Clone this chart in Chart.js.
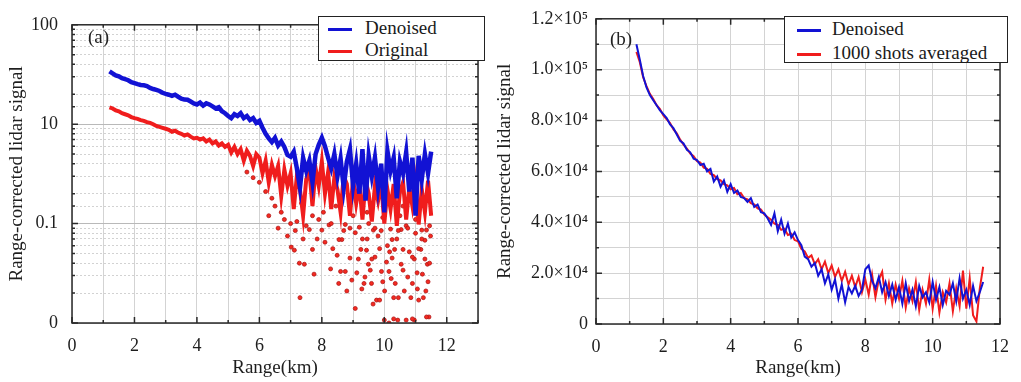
<!DOCTYPE html>
<html>
<head>
<meta charset="utf-8">
<script src="https://cdn.jsdelivr.net/npm/chart.js@4.4.1/dist/chart.umd.min.js"></script>
<style>
  body { margin: 0; background: #fff; width: 1021px; height: 382px; position: relative; overflow: hidden;
         font-family: "Liberation Serif", "Times New Roman", serif; color: #1a1a1a; }
  #panelA { position: absolute; left: 0; top: 0; width: 490px; height: 382px; }
  #panelB { position: absolute; left: 490px; top: 0; width: 531px; height: 382px; }
  .legend { position: absolute; background: #fff; border: 1px solid #222; box-sizing: border-box; font-size: 19px; }
  .legend div { height: 22px; line-height: 22px; white-space: nowrap; }
  .legend .sw { display: inline-block; width: 24px; height: 3px; vertical-align: middle; }
  #legendA { left: 318px; top: 16px; width: 167px; height: 45px; padding-left: 9px; }
  #legendA .sw { margin-right: 13px; }
  #legendB { left: 784px; top: 16px; width: 224px; height: 47px; padding-left: 12px; }
  #legendB div { height: 24px; line-height: 24px; }
  #legendB .sw { margin-right: 11px; }
</style>
</head>
<body>
<div id="panelA"><canvas id="chartA" width="490" height="382"></canvas></div>
<div id="panelB"><canvas id="chartB" width="531" height="382"></canvas></div>
<div class="legend" id="legendA"></div>
<div class="legend" id="legendB"></div>
<script>
// range bins (km), shared by every curve
var rangeKm = [1.2,1.3,1.4,1.5,1.6,1.7,1.8,1.9,2.0,2.1,
               2.2,2.3,2.4,2.5,2.6,2.7,2.8,2.9,3.0,3.1,
               3.2,3.3,3.4,3.5,3.6,3.7,3.8,3.9,4.0,4.1,
               4.2,4.3,4.4,4.5,4.6,4.7,4.8,4.9,5.0,5.1,
               5.2,5.3,5.4,5.5,5.6,5.7,5.8,5.9,6.0,6.1,
               6.2,6.3,6.4,6.5,6.6,6.7,6.8,6.9,7.0,7.1,
               7.2,7.3,7.4,7.5,7.6,7.7,7.8,7.9,8.0,8.1,
               8.2,8.3,8.4,8.5,8.6,8.7,8.8,8.9,9.0,9.1,
               9.2,9.3,9.4,9.5,9.6,9.7,9.8,9.9,10.0,10.1,
               10.2,10.3,10.4,10.5,10.6,10.7,10.8,10.9,11.0,11.1,
               11.2,11.3,11.4,11.5];

// panel (a), log axis
var denoisedA = [34.0,32.4,31.0,30.3,29.0,28.4,27.7,26.5,25.9,25.3,
                 24.8,24.6,24.2,23.2,22.6,22.1,21.6,20.7,20.2,19.8,
                 19.3,19.8,18.9,18.1,17.7,17.6,16.9,16.2,15.8,16.5,
                 15.4,16.2,15.8,15.1,14.4,14.8,13.5,12.9,12.1,11.5,
                 12.6,12.1,12.9,11.5,12.1,11.0,11.5,10.3,10.8,9.2,
                 8.0,7.2,6.6,7.3,6.1,6.7,5.9,4.9,4.7,5.3,
                 3.6,2.3,4.6,3.4,4.3,2.6,5.0,6.2,7.3,6.0,
                 4.6,3.6,5.0,3.0,4.5,2.3,4.2,5.6,2.4,4.0,
                 2.0,5.6,1.7,4.8,3.0,4.6,2.3,4.0,1.3,5.4,
                 3.4,4.6,1.8,4.2,3.2,5.2,2.1,4.6,1.2,4.8,
                 2.8,5.0,3.2,5.3];
var originalA = [14.8,14.4,13.8,13.5,12.9,12.6,12.3,11.8,11.5,11.3,
                 11.0,10.8,10.5,10.3,10.0,9.6,9.4,9.2,9.0,8.8,
                 8.4,8.6,8.2,8.0,7.7,7.9,7.5,7.2,7.3,7.0,
                 7.2,6.7,7.0,6.4,6.7,6.1,6.4,5.9,6.2,5.2,
                 5.9,5.0,5.6,4.3,5.4,4.8,3.8,5.0,4.6,3.2,
                 4.3,2.6,3.9,3.0,3.8,1.9,3.5,2.4,3.2,1.4,
                 3.0,2.2,1.2,2.8,3.4,1.5,3.6,2.4,4.2,2.0,
                 3.3,1.4,2.9,2.2,1.3,3.0,2.5,1.2,2.8,1.6,
                 2.5,1.1,2.7,2.0,1.05,2.4,1.7,2.6,1.0,2.2,
                 1.4,2.5,0.95,2.1,2.6,1.1,2.3,1.5,2.6,0.98,
                 2.2,1.3,2.7,1.2];
// scattered samples of the original signal
var outlierKm = [7.02,7.12,7.28,7.30,7.44,7.70,7.75,7.60,8.23,8.28,
                 8.49,8.54,8.64,8.75,8.80,8.96,9.07,9.12,9.17,9.28,
                 9.38,9.49,9.43,9.59,9.64,9.70,9.80,9.91,10.01,10.07,
                 10.17,10.22,10.33,10.43,10.54,10.64,10.75,10.80,10.85,10.96,
                 11.06,11.17,11.22,11.33,11.38,11.43,11.48,10.96,10.70,10.54,
                 9.07,6.6,6.9,7.4,8.1,8.9,9.3,9.9,10.4,11.0,
                 11.3,6.3,7.9,9.5,10.7,10.1,11.45,
                 9.75,9.85,10.3,10.45,11.1,11.25,
                 9.35,9.95,10.35,10.9,11.4,
                 8.6,9.55,10.15,10.6,11.05,
                 8.9,9.6,10.25,10.9,11.3,
                 8.35,9.25,9.85,10.6,11.1,
                 7.85,8.55,9.45,10.25,11.2,
                 7.15,8.0,8.7,9.65,10.45,11.35,
                 10.0,10.3,10.9,11.35,10.15,
                 5.6,5.8,6.0,6.2,6.4,6.5,6.7,6.8,7.0,7.2,
                 7.5,7.7,8.05,8.3,8.45,8.75,9.0,9.2,9.45,9.7,
                 9.95,10.2,10.5,10.75,11.0,11.2,11.45,7.35,8.9,10.6];
var outlierSignal = [0.58,0.54,0.40,0.18,0.39,0.55,0.31,0.87,0.97,0.35,
                     0.48,0.25,0.69,0.33,0.21,0.27,0.14,0.32,0.44,0.22,
                     0.29,0.39,0.54,0.25,0.155,0.46,0.75,0.33,0.21,0.41,
                     0.52,0.28,0.55,0.107,0.39,0.21,0.29,0.52,0.18,0.44,
                     0.22,0.55,0.31,0.21,0.39,0.115,0.75,0.107,0.107,0.87,
                     0.81,0.9,0.75,0.7,0.65,0.9,0.7,0.85,0.7,0.8,
                     0.68,1.2,1.1,1.0,0.95,0.6,0.4,
                     0.17,0.17,0.18,0.18,0.17,0.18,
                     0.25,0.26,0.25,0.25,0.26,
                     0.33,0.34,0.33,0.34,0.32,
                     0.45,0.44,0.45,0.46,0.44,
                     0.56,0.55,0.56,0.55,0.56,
                     0.7,0.69,0.7,0.69,0.7,
                     0.85,0.86,0.85,0.86,0.85,0.86,
                     0.107,0.11,0.11,0.115,0.1,
                     3.3,2.9,2.6,2.1,1.8,1.5,1.3,1.1,1.0,1.05,
                     0.95,1.2,1.3,1.0,1.5,0.98,1.2,0.92,1.3,0.9,
                     1.15,0.88,1.2,0.9,1.1,0.86,0.95,1.6,1.6,1.5];

// panel (b), linear axis
var denoisedB = [110000,104000,97500,93000,90000,88000,86000,84000,82500,81000,
                 78500,77000,74500,72000,71000,68500,67500,65000,64500,62500,
                 63000,60000,61000,56000,58000,54000,56500,52000,55000,51500,
                 52500,50000,49500,48000,49500,46000,47000,44000,43500,41500,
                 39000,43500,36500,41000,35500,39500,34000,36000,33000,31000,
                 26500,25500,22500,24000,19000,21500,16000,19500,13500,17500,
                 10000,15500,8500,14500,12000,15000,11000,13500,21500,23000,
                 17000,14000,18500,12500,16500,11000,15500,9500,14500,8000,
                 16000,9000,13500,7000,15000,10500,12500,8500,16500,9500,
                 14500,7500,13000,11500,16000,9000,18000,10000,13500,7500,
                 15000,9000,12500,16500];
var averagedB = [107000,103000,97000,93500,90500,88500,86000,84500,82000,80500,
                 79000,76500,75000,72500,70500,69000,67000,66000,64000,63500,
                 61500,61000,59000,58500,57000,56500,55000,54500,53000,53500,
                 51000,51500,49500,49000,47500,47000,45500,45000,43000,42000,
                 41000,39500,39000,37000,37500,35000,35500,33000,32500,29500,
                 28500,26000,27000,23500,25500,21500,24500,20000,23000,18500,
                 21500,17000,20500,15500,19000,14500,18500,12500,17500,11500,
                 19500,10500,17500,20500,9500,16000,8000,15500,10000,17000,
                 6500,14000,9000,16500,5500,13500,8000,17500,6000,15000,
                 4500,12500,8500,16000,5000,14000,7000,21000,6000,18000,
                 3500,1000,14000,22500];

// tick labels
var xTickValues = [0,2,4,6,8,10,12];
var xTickText = ['0','2','4','6','8','10','12'];
var yDecades = [100, 10, 1, 0.1];
var yDecadeText = ['100', '10', '0.1', '0'];
var yMajorB = [0, 20000, 40000, 60000, 80000, 100000, 120000];
var yMajorTextB = ['0', '2.0×10⁴', '4.0×10⁴', '6.0×10⁴', '8.0×10⁴', '1.0×10⁵', '1.2×10⁵'];

var blue = '#1212d4';
var red = '#f01d1d';

Chart.defaults.font.family = '"Liberation Serif", "Times New Roman", serif';
Chart.defaults.color = '#1e1e1e';

function pairs(xs, ys) {
    return xs.map(function(x, i){ return {x: x, y: ys[i]}; });
}

function isDecade(v) {
    var e = Math.log10(v);
    return Math.abs(e - Math.round(e)) < 1e-6;
}

// frame, inward tick marks and the panel tag
var panelFrame = {
    id: 'panelFrame',
    afterDatasetsDraw: function(chart, args, opts) {
        var ctx = chart.ctx, a = chart.chartArea;
        var xs = chart.scales.x, ys = chart.scales.y;
        ctx.save();
        ctx.strokeStyle = '#2a2a2a';
        ctx.lineWidth = 1.5;
        ctx.beginPath();
        xs.ticks.forEach(function(t){
            var px = xs.getPixelForValue(t.value);
            var len = t.label ? 6 : 3;
            ctx.moveTo(px, a.bottom); ctx.lineTo(px, a.bottom - len);
            ctx.moveTo(px, a.top); ctx.lineTo(px, a.top + len);
        });
        ys.ticks.forEach(function(t){
            var py = ys.getPixelForValue(t.value);
            var len = t.label ? 6 : 3;
            ctx.moveTo(a.left, py); ctx.lineTo(a.left + len, py);
            ctx.moveTo(a.right, py); ctx.lineTo(a.right - len, py);
        });
        ctx.stroke();
        ctx.strokeRect(a.left, a.top, a.right - a.left, a.bottom - a.top);
        ctx.font = '19px "Liberation Serif"';
        ctx.fillStyle = '#222';
        ctx.textBaseline = 'middle';
        ctx.fillText(opts.tag, opts.tagX, opts.tagY);
        ctx.restore();
    }
};

function xAxis(maxKm, titlePad) {
    return {
        type: 'linear', min: 0, max: maxKm,
        afterFit: function(s){ s.height = titlePad.h; },
        ticks: {
            stepSize: 1, autoSkip: false, maxRotation: 0, padding: 12,
            font: {size: 18},
            callback: function(v){
                var i = xTickValues.indexOf(v);
                return i < 0 ? '' : xTickText[i];
            }
        },
        grid: {color: '#d3d3d3', lineWidth: 1, drawTicks: false},
        border: {display: false},
        title: {display: true, text: 'Range(km)', font: {size: 19}, padding: {top: 0, bottom: 3}}
    };
}

function buildLegend(chart, el) {
    chart.data.datasets.forEach(function(ds){
        if (ds.inLegend === false) return;
        var row = document.createElement('div');
        var sw = document.createElement('span');
        sw.className = 'sw';
        sw.style.background = ds.borderColor;
        row.appendChild(sw);
        row.appendChild(document.createTextNode(ds.label));
        el.appendChild(row);
    });
}

var chartA = new Chart(document.getElementById('chartA'), {
    type: 'line',
    data: {
        datasets: [{
            label: 'Denoised',
            data: pairs(rangeKm, denoisedA),
            borderColor: blue, borderWidth: 4.5, pointRadius: 0, tension: 0
        }, {
            label: 'Original',
            data: pairs(rangeKm, originalA),
            borderColor: red, borderWidth: 4, pointRadius: 0, tension: 0
        }, {
            label: 'Original samples',
            inLegend: false,
            data: pairs(outlierKm, outlierSignal),
            showLine: false,
            borderColor: '#b01818', backgroundColor: '#f52a20',
            pointRadius: 2, pointBorderWidth: 0.8
        }]
    },
    options: {
        responsive: false, animation: false, events: [],
        devicePixelRatio: 1,
        layout: {padding: {top: 16, right: 5, left: 0, bottom: 0}},
        plugins: {
            legend: {display: false}, tooltip: {enabled: false},
            panelFrame: {tag: '(a)', tagX: 88, tagY: 38}
        },
        scales: {
            x: xAxis(13, {h: 59}),
            y: {
                type: 'logarithmic', min: 0.1, max: 100,
                afterFit: function(s){ s.width = 72; },
                ticks: {
                    autoSkip: false, padding: 14, font: {size: 18},
                    callback: function(v){
                        if (!isDecade(v)) return '';
                        var i = yDecades.findIndex(function(d){ return Math.abs(d - v) < 1e-9; });
                        return i < 0 ? '' : yDecadeText[i];
                    }
                },
                grid: {
                    drawTicks: false, lineWidth: 1,
                    color: function(c){ return isDecade(c.tick.value) ? '#b9b9b9' : '#d2d2d2'; }
                },
                border: {
                    display: false,
                    dash: function(c){ return c.tick && isDecade(c.tick.value) ? [] : [2, 2]; }
                },
                title: {display: true, text: 'Range-corrected lidar signal', font: {size: 19}, padding: {top: 6, bottom: 0}}
            }
        }
    },
    plugins: [panelFrame]
});

var chartB = new Chart(document.getElementById('chartB'), {
    type: 'line',
    data: {
        datasets: [{
            label: 'Denoised',
            data: pairs(rangeKm, denoisedB),
            borderColor: blue, borderWidth: 2, pointRadius: 0, tension: 0
        }, {
            label: '1000 shots averaged',
            data: pairs(rangeKm, averagedB),
            borderColor: red, borderWidth: 2, pointRadius: 0, tension: 0
        }]
    },
    options: {
        responsive: false, animation: false, events: [],
        devicePixelRatio: 1,
        layout: {padding: {top: 16, right: 13, left: 0, bottom: 0}},
        plugins: {
            legend: {display: false}, tooltip: {enabled: false},
            panelFrame: {tag: '(b)', tagX: 120, tagY: 40}
        },
        scales: {
            x: xAxis(12, {h: 58}),
            y: {
                type: 'linear', min: 0, max: 120000,
                afterFit: function(s){ s.width = 106; },
                ticks: {
                    stepSize: 10000, autoSkip: false, padding: 8, font: {size: 18},
                    callback: function(v){
                        var i = yMajorB.indexOf(v);
                        return i < 0 ? '' : yMajorTextB[i];
                    }
                },
                grid: {color: '#d3d3d3', lineWidth: 1, drawTicks: false},
                border: {display: false},
                title: {display: true, text: 'Range-corrected lidar signal', font: {size: 19}, padding: {top: 4, bottom: 0}}
            }
        }
    },
    plugins: [panelFrame]
});

buildLegend(chartA, document.getElementById('legendA'));
buildLegend(chartB, document.getElementById('legendB'));
</script>
</body>
</html>
